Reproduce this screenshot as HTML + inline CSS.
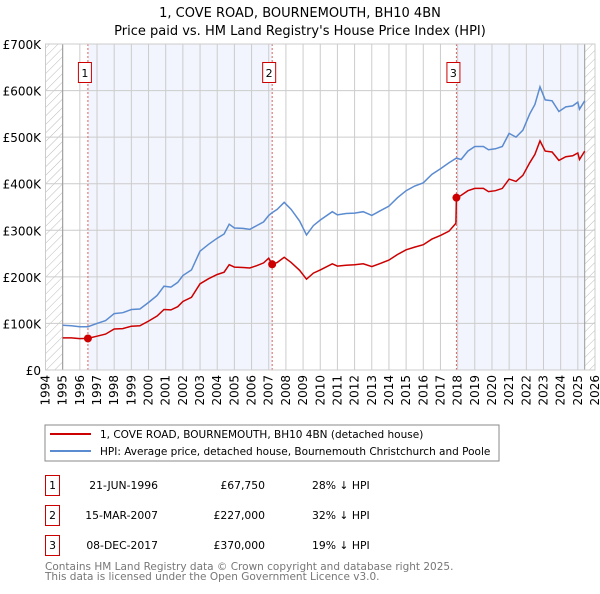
<!DOCTYPE html>
<html><head><meta charset="utf-8"><style>
body{margin:0;background:#fff;font-family:"DejaVu Sans","Liberation Sans",sans-serif;}
svg text{font-family:"DejaVu Sans","Liberation Sans",sans-serif;}
</style></head><body>
<svg id="c" width="600" height="590" xmlns="http://www.w3.org/2000/svg">
<defs><pattern id="h" width="6" height="6" patternUnits="userSpaceOnUse" patternTransform="rotate(45)"><line x1="0" y1="0" x2="0" y2="6" stroke="#bbb" stroke-width="1"/></pattern></defs>
<text x="300" y="17" text-anchor="middle" font-size="13">1, COVE ROAD, BOURNEMOUTH, BH10 4BN</text>
<text x="300" y="35" text-anchor="middle" font-size="13">Price paid vs. HM Land Registry's House Price Index (HPI)</text>
<g id="plot"></g>
<rect x="45" y="425" width="454" height="36" fill="#fff" stroke="#888"/>
<line x1="50" y1="434" x2="91" y2="434" stroke="#cc0000" stroke-width="2"/>
<text x="100" y="438" font-size="10.5">1, COVE ROAD, BOURNEMOUTH, BH10 4BN (detached house)</text>
<line x1="50" y1="451" x2="91" y2="451" stroke="#5b8bd0" stroke-width="2"/>
<text x="100" y="455" font-size="10.5">HPI: Average price, detached house, Bournemouth Christchurch and Poole</text>
<g font-size="10.8">
<rect x="45.5" y="475.5" width="14" height="20" fill="none" stroke="#cc0000"/><text x="52.5" y="489" text-anchor="middle">1</text>
<text x="158" y="489" text-anchor="end">21-JUN-1996</text><text x="265" y="489" text-anchor="end">£67,750</text><text x="312" y="489">28% ↓ HPI</text>
<rect x="45.5" y="505.5" width="14" height="20" fill="none" stroke="#cc0000"/><text x="52.5" y="519" text-anchor="middle">2</text>
<text x="158" y="519" text-anchor="end">15-MAR-2007</text><text x="265" y="519" text-anchor="end">£227,000</text><text x="312" y="519">32% ↓ HPI</text>
<rect x="45.5" y="535.5" width="14" height="20" fill="none" stroke="#cc0000"/><text x="52.5" y="549" text-anchor="middle">3</text>
<text x="158" y="549" text-anchor="end">08-DEC-2017</text><text x="265" y="549" text-anchor="end">£370,000</text><text x="312" y="549">19% ↓ HPI</text>
</g>
<text x="45" y="570" font-size="10.5" fill="#777">Contains HM Land Registry data © Crown copyright and database right 2025.</text>
<text x="45" y="580" font-size="10.5" fill="#777">This data is licensed under the Open Government Licence v3.0.</text>
</svg>
<script>
const hpiYears=[1995,1995.5,1996,1996.47,1997,1997.5,1998,1998.5,1999,1999.5,2000,2000.5,2000.9,2001.3,2001.7,2002,2002.5,2003,2003.5,2004,2004.4,2004.7,2005,2005.5,2005.9,2006.3,2006.7,2007,2007.2,2007.5,2007.9,2008.3,2008.8,2009.2,2009.6,2010,2010.7,2011,2011.5,2012,2012.5,2013,2013.5,2014,2014.5,2015,2015.5,2016,2016.5,2017,2017.5,2017.93,2018.2,2018.6,2019,2019.5,2019.8,2020.2,2020.6,2021,2021.4,2021.8,2022.2,2022.5,2022.8,2023.1,2023.5,2023.9,2024.3,2024.7,2025,2025.1,2025.4];
const hpiValues=[96,95,93,93,100,106,121,123,130,131,145,160,180,178,188,203,215,255,270,283,292,313,305,304,302,310,318,332,338,345,360,345,320,290,310,322,340,333,336,337,340,332,342,352,370,385,395,402,420,432,445,455,452,470,480,480,473,475,480,508,500,515,550,570,608,580,578,555,565,567,575,560,578];
const priceYears=[1995,1995.5,1996,1996.47,1997,1997.5,1998,1998.5,1999,1999.5,2000,2000.5,2000.9,2001.3,2001.7,2002,2002.5,2003,2003.5,2004,2004.4,2004.7,2005,2005.5,2005.9,2006.3,2006.7,2007,2007.2,2007.5,2007.9,2008.3,2008.8,2009.2,2009.6,2010,2010.7,2011,2011.5,2012,2012.5,2013,2013.5,2014,2014.5,2015,2015.5,2016,2016.5,2017,2017.5,2017.9,2017.93,2018.2,2018.6,2019,2019.5,2019.8,2020.2,2020.6,2021,2021.4,2021.8,2022.2,2022.5,2022.8,2023.1,2023.5,2023.9,2024.3,2024.7,2025,2025.1,2025.4];
const priceValues=[69,69,67.5,67.75,72.5,77,88,89,94,95,105,116,130,129,136,147,156,185,196,205,210,226,221,220,219,224,230,240,227,231,242,231,214,195,208,215,228,223,225,226,228,222,229,236,248,258,264,269,281,289,298,315,370,375,385,390,390,383,385,390,410,405,418,445,463,492,470,468,450,458,460,466,452,470];
const saleYears=[1996.47,2007.2,2017.93];
const saleValues=[67.75,227,370];
const saleLabels=["1","2","3"];
const yTicks=[0,100,200,300,400,500,600,700];
const yTickLabels=["£0","£100K","£200K","£300K","£400K","£500K","£600K","£700K"];
const xTicks=[1994,1995,1996,1997,1998,1999,2000,2001,2002,2003,2004,2005,2006,2007,2008,2009,2010,2011,2012,2013,2014,2015,2016,2017,2018,2019,2020,2021,2022,2023,2024,2025,2026];

const X0=45.5,X1=595,Y0=370,Y1=44;
const sx=y=>X0+(y-1994)/(2026-1994)*(X1-X0);
const sy=v=>Y0-v/700*(Y0-Y1);
const NS="http://www.w3.org/2000/svg";
const g=document.getElementById('plot');
function mk(t,a){const e=document.createElementNS(NS,t);for(const k in a)e.setAttribute(k,a[k]);g.appendChild(e);return e;}
let e;
e=mk('rect',{x:sx(saleYears[0]),y:Y1,width:sx(saleYears[1])-sx(saleYears[0]),height:Y0-Y1,fill:'#f2f5fd'});


e=mk('rect',{x:sx(saleYears[2]),y:Y1,width:sx(2025.4)-sx(saleYears[2]),height:Y0-Y1,fill:'#f2f5fd'});


e=mk('rect',{x:X0,y:Y1,width:sx(1995)-X0,height:Y0-Y1,fill:'url(#h)'});


e=mk('rect',{x:sx(2025.4),y:Y1,width:X1-sx(2025.4),height:Y0-Y1,fill:'url(#h)'});


xTicks.forEach(t=>{
 e=mk('line',{x1:sx(t),x2:sx(t),y1:Y1,y2:Y0,stroke:'#ccc'});
 
 
 e=mk('text',{x:0,y:0,'font-size':12,'text-anchor':'end',transform:`translate(${sx(t)+4},${Y0+5}) rotate(-90)`});
 e.textContent=t;
 
 
});
yTicks.forEach((t,i)=>{
 e=mk('line',{x1:X0,x2:X1,y1:sy(t),y2:sy(t),stroke:'#ccc'});
 
 
 e=mk('text',{x:41,y:sy(t)+5,'font-size':12,'text-anchor':'end'});
 e.textContent=yTickLabels[i];
 
 
});
e=mk('line',{x1:sx(1995),x2:sx(1995),y1:Y1,y2:Y0,stroke:'#999'});


e=mk('line',{x1:sx(2025.4),x2:sx(2025.4),y1:Y1,y2:Y0,stroke:'#999'});


saleYears.forEach((s,i)=>{
 e=mk('line',{x1:sx(s),x2:sx(s),y1:Y1,y2:Y0,stroke:'#e06060','stroke-dasharray':'2,2'});
 
 
 e=mk('rect',{x:sx(s)-9.5,y:62.5,width:13,height:20,fill:'#fff',stroke:'#cc0000'});
 
 
 e=mk('text',{x:sx(s)-3,y:77,'font-size':11,'text-anchor':'middle'});
 e.textContent=saleLabels[i];
 
 
});
e=mk('path',{d:hpiYears.map((y,i)=>(i?'L':'M')+sx(y).toFixed(1)+','+sy(hpiValues[i]).toFixed(1)).join(''),fill:'none',stroke:'#5b8bd0','stroke-width':1.5});


e=mk('path',{d:priceYears.map((y,i)=>(i?'L':'M')+sx(y).toFixed(1)+','+sy(priceValues[i]).toFixed(1)).join(''),fill:'none',stroke:'#cc0000','stroke-width':1.5});


saleYears.forEach((s,i)=>{
 e=mk('circle',{cx:sx(s),cy:sy(saleValues[i]),r:4,fill:'#cc0000'});
 
 
});
e=mk('rect',{x:X0,y:Y1,width:X1-X0,height:Y0-Y1,fill:'none',stroke:'#ccc'});


</script>
</body></html>
